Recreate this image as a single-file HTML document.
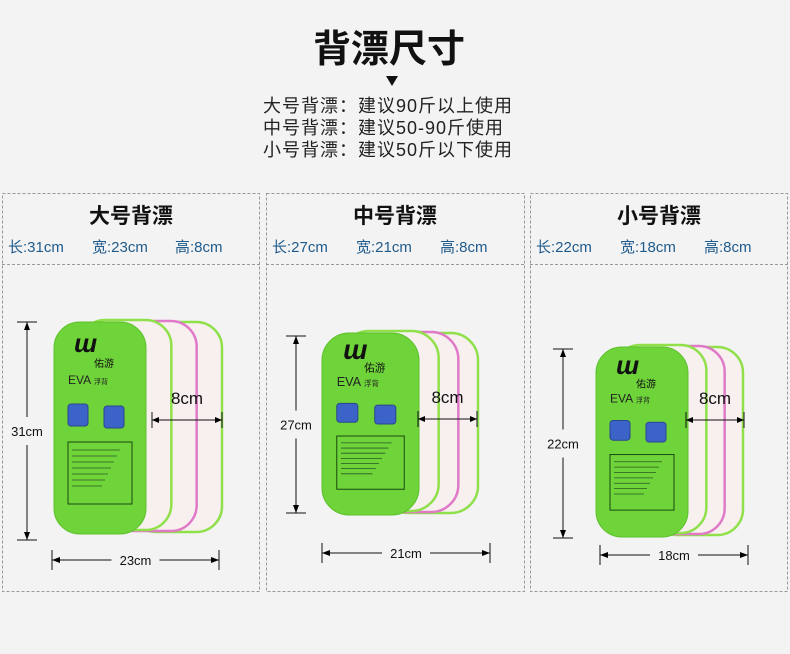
<!DOCTYPE html>
<html><head><meta charset="utf-8"><style>
body{margin:0;background:#f3f3f3;}
svg{display:block}
text{font-family:"Liberation Sans","Noto Sans CJK SC",sans-serif}
</style></head><body>
<svg id="s" width="790" height="654" xmlns="http://www.w3.org/2000/svg">
<rect width="790" height="654" fill="#f3f3f3"/>
<text x="389" y="62" font-size="38" font-weight="bold" text-anchor="middle" fill="#111">背漂尺寸</text>
<polygon points="386,76 398,76 392,86" fill="#111"/>
<g font-size="18" fill="#222" letter-spacing="1">
<text x="263" y="112">大号背漂：建议90斤以上使用</text>
<text x="263" y="134">中号背漂：建议50-90斤使用</text>
<text x="263" y="156">小号背漂：建议50斤以下使用</text>
</g>
<g fill="none" stroke="#999" stroke-dasharray="3,2">
<rect x="2.5" y="193.5" width="257" height="398"/><line x1="2" y1="264.5" x2="260" y2="264.5"/>
<rect x="266.5" y="193.5" width="258" height="398"/><line x1="266" y1="264.5" x2="525" y2="264.5"/>
<rect x="530.5" y="193.5" width="257" height="398"/><line x1="530" y1="264.5" x2="788" y2="264.5"/>
</g>
<g font-size="21" font-weight="bold" fill="#111" text-anchor="middle">
<text x="131" y="223">大号背漂</text><text x="395" y="223">中号背漂</text><text x="659" y="223">小号背漂</text>
</g>
<g font-size="15" fill="#1f5b8c">
<text x="8" y="252">长:31cm</text><text x="92" y="252">宽:23cm</text><text x="175" y="252">高:8cm</text>
<text x="272" y="252">长:27cm</text><text x="356" y="252">宽:21cm</text><text x="440" y="252">高:8cm</text>
<text x="536" y="252">长:22cm</text><text x="620" y="252">宽:18cm</text><text x="704" y="252">高:8cm</text>
</g>
<g id="boards"></g>
</svg>
<script>
var g=document.getElementById('boards'),h='';
function board(fx,fy,fw,fh,right,vx,vy1,vy2,vlab,hy,hx1,hx2,hlab,dy,dx1,dx2){
  var r=fw*0.28,d=right-(fx+fw);
  for(var i=3;i>=1;i--){
    var ox=d*i/3, c=i%2?'#8fe04a':'#e07ac8';
    h+='<rect x="'+(fx+ox)+'" y="'+(fy-3+i)+'" width="'+fw+'" height="'+(fh-2)+'" rx="'+r+'" fill="#f7f0ef" stroke="'+c+'" stroke-width="2.5"/>';
  }
  h+='<rect x="'+fx+'" y="'+fy+'" width="'+fw+'" height="'+fh+'" rx="'+r+'" fill="#6fd33a" stroke="#5cc02c"/>';
  var s=fw/92, t=fh/212;
  h+='<text x="'+(fx+20*s)+'" y="'+(fy+30*t)+'" font-size="'+(26*s)+'" font-style="italic" font-weight="bold" font-family="Liberation Serif,serif" fill="#111">ш</text>';
  h+='<text x="'+(fx+40*s)+'" y="'+(fy+45*t)+'" font-size="'+(10*s)+'" fill="#111">佑游</text>';
  h+='<text x="'+(fx+14*s)+'" y="'+(fy+62*t)+'" font-size="'+(12*s)+'" fill="#222">EVA</text>';
  h+='<text x="'+(fx+40*s)+'" y="'+(fy+62*t)+'" font-size="'+(7*s)+'" fill="#222">浮背</text>';
  h+='<rect x="'+(fx+14*s)+'" y="'+(fy+82*t)+'" width="'+(20*s)+'" height="'+(22*t)+'" rx="3" fill="#3c63c8" stroke="#2b468f"/>';
  h+='<rect x="'+(fx+50*s)+'" y="'+(fy+84*t)+'" width="'+(20*s)+'" height="'+(22*t)+'" rx="3" fill="#3c63c8" stroke="#2b468f"/>';
  h+='<rect x="'+(fx+14*s)+'" y="'+(fy+120*t)+'" width="'+(64*s)+'" height="'+(62*t)+'" fill="none" stroke="#1a4a10" stroke-width="1"/>';
  for(var k=0;k<7;k++)h+='<line x1="'+(fx+18*s)+'" y1="'+(fy+(128+k*6)*t)+'" x2="'+(fx+(66-k*3)*s)+'" y2="'+(fy+(128+k*6)*t)+'" stroke="#2a5a20" stroke-width="0.8"/>';
  var L='stroke="#111" stroke-width="1"';
  var v1=(vy1+vy2)/2-14,v2=(vy1+vy2)/2+14;
  h+='<line x1="'+(vx-10)+'" y1="'+vy1+'" x2="'+(vx+10)+'" y2="'+vy1+'" '+L+'/><line x1="'+(vx-10)+'" y1="'+vy2+'" x2="'+(vx+10)+'" y2="'+vy2+'" '+L+'/>';
  h+='<line x1="'+vx+'" y1="'+vy1+'" x2="'+vx+'" y2="'+v1+'" '+L+'/><line x1="'+vx+'" y1="'+v2+'" x2="'+vx+'" y2="'+vy2+'" '+L+'/>';
  h+='<polygon points="'+vx+','+vy1+' '+(vx-3)+','+(vy1+8)+' '+(vx+3)+','+(vy1+8)+'"/><polygon points="'+vx+','+vy2+' '+(vx-3)+','+(vy2-8)+' '+(vx+3)+','+(vy2-8)+'"/>';
  h+='<text x="'+vx+'" y="'+((vy1+vy2)/2+5)+'" font-size="13" text-anchor="middle" fill="#111">'+vlab+'</text>';
  var m=(hx1+hx2)/2;
  h+='<line x1="'+hx1+'" y1="'+(hy-10)+'" x2="'+hx1+'" y2="'+(hy+10)+'" '+L+'/><line x1="'+hx2+'" y1="'+(hy-10)+'" x2="'+hx2+'" y2="'+(hy+10)+'" '+L+'/>';
  h+='<line x1="'+hx1+'" y1="'+hy+'" x2="'+(m-24)+'" y2="'+hy+'" '+L+'/><line x1="'+(m+24)+'" y1="'+hy+'" x2="'+hx2+'" y2="'+hy+'" '+L+'/>';
  h+='<polygon points="'+hx1+','+hy+' '+(hx1+8)+','+(hy-3)+' '+(hx1+8)+','+(hy+3)+'"/><polygon points="'+hx2+','+hy+' '+(hx2-8)+','+(hy-3)+' '+(hx2-8)+','+(hy+3)+'"/>';
  h+='<text x="'+m+'" y="'+(hy+5)+'" font-size="13" text-anchor="middle" fill="#111">'+hlab+'</text>';
  h+='<line x1="'+dx1+'" y1="'+(dy-8)+'" x2="'+dx1+'" y2="'+(dy+8)+'" '+L+'/><line x1="'+dx2+'" y1="'+(dy-8)+'" x2="'+dx2+'" y2="'+(dy+8)+'" '+L+'/>';
  h+='<line x1="'+dx1+'" y1="'+dy+'" x2="'+dx2+'" y2="'+dy+'" '+L+'/>';
  h+='<polygon points="'+dx1+','+dy+' '+(dx1+7)+','+(dy-3)+' '+(dx1+7)+','+(dy+3)+'"/><polygon points="'+dx2+','+dy+' '+(dx2-7)+','+(dy-3)+' '+(dx2-7)+','+(dy+3)+'"/>';
  h+='<text x="'+((dx1+dx2)/2)+'" y="'+(dy-16)+'" font-size="17" text-anchor="middle" fill="#111">8cm</text>';
}
board(54,322,92,212,222, 27,322,540,'31cm', 560,52,219,'23cm', 420,152,222);
board(322,333,97,182,478, 296,336,513,'27cm', 553,322,490,'21cm', 419,418,477);
board(596,347,92,190,743, 563,349,538,'22cm', 555,600,748,'18cm', 420,686,744);
g.innerHTML=h;
</script>
</body></html>
